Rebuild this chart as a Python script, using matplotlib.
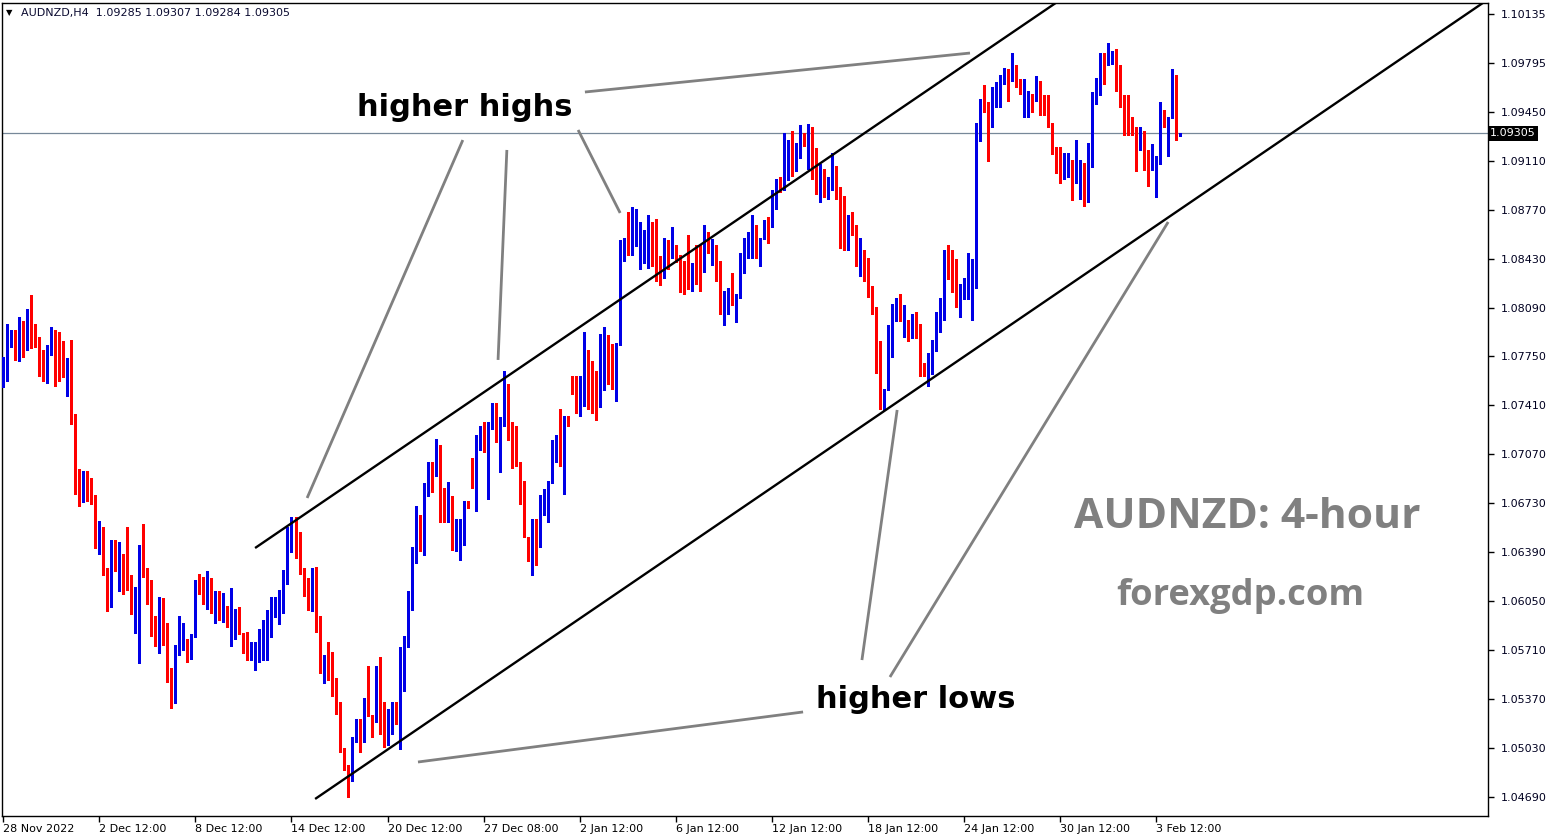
import matplotlib
matplotlib.use("Agg")
import matplotlib.pyplot as plt
from matplotlib.transforms import blended_transform_factory

# ---------------- data (AUDNZD H4) ----------------
opens = [
    1.0755, 1.0762, 1.0791, 1.0778, 1.0774, 1.0792, 1.0786, 1.0803, 1.0792, 1.0784,
    1.0767, 1.0762, 1.0779, 1.0793, 1.0764, 1.0769, 1.0764, 1.0773, 1.0730, 1.0687,
    1.0674, 1.0687, 1.0678, 1.0675, 1.0645, 1.0648, 1.0627, 1.0620, 1.0630, 1.0628,
    1.0638, 1.0622, 1.0619, 1.0595, 1.0598, 1.0643, 1.0624, 1.0606, 1.0584, 1.0580,
    1.0606, 1.0586, 1.0559, 1.0534, 1.0570, 1.0577, 1.0579, 1.0570, 1.0581, 1.0619,
    1.0616, 1.0606, 1.0610, 1.0597, 1.0605, 1.0592, 1.0594, 1.0574, 1.0583, 1.0599,
    1.0583, 1.0571, 1.0564, 1.0563, 1.0575, 1.0577, 1.0582, 1.0580, 1.0600, 1.0589,
    1.0597, 1.0619, 1.0645, 1.0647, 1.0644, 1.0622, 1.0621, 1.0605, 1.0616, 1.0591,
    1.0556, 1.0563, 1.0561, 1.0541, 1.0529, 1.0503, 1.0490, 1.0504, 1.0510, 1.0520,
    1.0507, 1.0536, 1.0526, 1.0523, 1.0550, 1.0522, 1.0520, 1.0521, 1.0530, 1.0513,
    1.0570, 1.0573, 1.0603, 1.0638, 1.0658, 1.0643, 1.0678, 1.0697, 1.0692, 1.0714,
    1.0671, 1.0668, 1.0670, 1.0643, 1.0653, 1.0659, 1.0673, 1.0705, 1.0670, 1.0719,
    1.0725, 1.0714, 1.0725, 1.0736, 1.0711, 1.0727, 1.0753, 1.0730, 1.0721, 1.0702,
    1.0671, 1.0650, 1.0633, 1.0660, 1.0643, 1.0670, 1.0666, 1.0688, 1.0711, 1.0719,
    1.0699, 1.0731, 1.0762, 1.0759, 1.0742, 1.0752, 1.0778, 1.0758, 1.0756, 1.0740,
    1.0759, 1.0776, 1.0776, 1.0744, 1.0783, 1.0842, 1.0858, 1.0847, 1.0856, 1.0836,
    1.0849, 1.0854, 1.0867, 1.0864, 1.0845, 1.0830, 1.0848, 1.0845, 1.0853, 1.0845,
    1.0835, 1.0833, 1.0828, 1.0840, 1.0837, 1.0834, 1.0858, 1.0839, 1.0850, 1.0835,
    1.0810, 1.0816, 1.0822, 1.0799, 1.0818, 1.0840, 1.0851, 1.0855, 1.0860, 1.0838,
    1.0857, 1.0869, 1.0865, 1.0884, 1.0898, 1.0891, 1.0907, 1.0925, 1.0908, 1.0915,
    1.0930, 1.0906, 1.0935, 1.0917, 1.0891, 1.0904, 1.0889, 1.0891, 1.0906, 1.0885,
    1.0869, 1.0855, 1.0872, 1.0867, 1.0840, 1.0842, 1.0828, 1.0824, 1.0810, 1.0774,
    1.0741, 1.0752, 1.0778, 1.0800, 1.0803, 1.0794, 1.0801, 1.0792, 1.0805, 1.0789,
    1.0768, 1.0760, 1.0763, 1.0779, 1.0792, 1.0808, 1.0846, 1.0843, 1.0843, 1.0814,
    1.0822, 1.0823, 1.0825, 1.0830, 1.0931, 1.0952, 1.0946, 1.0943, 1.0954, 1.0956,
    1.0965, 1.0975, 1.0967, 1.0975, 1.0965, 1.0942, 1.0954, 1.0956, 1.0953, 1.0963,
    1.0949, 1.0942, 1.0938, 1.0917, 1.0904, 1.0902, 1.0907, 1.0905, 1.0897, 1.0903,
    1.0906, 1.0885, 1.0918, 1.0951, 1.0958, 1.0983, 1.0978, 1.0979, 1.0983, 1.0955,
    1.0950, 1.0944, 1.0937, 1.0935, 1.0919, 1.0928, 1.0909, 1.0905, 1.0905, 1.0910,
    1.0942, 1.0919, 1.0941, 1.0968, 1.09285,
]
highs = [
    1.0775, 1.0798, 1.0794, 1.0794, 1.0803, 1.0800, 1.0808, 1.0818, 1.0798, 1.0789,
    1.0780, 1.0783, 1.0796, 1.0794, 1.0792, 1.0786, 1.0774, 1.0787, 1.0735, 1.0697,
    1.0696, 1.0696, 1.0691, 1.0679, 1.0661, 1.0657, 1.0628, 1.0648, 1.0648, 1.0646,
    1.0638, 1.0657, 1.0623, 1.0615, 1.0644, 1.0659, 1.0628, 1.0620, 1.0595, 1.0608,
    1.0607, 1.0590, 1.0559, 1.0575, 1.0595, 1.0590, 1.0579, 1.0582, 1.0620, 1.0624,
    1.0622, 1.0626, 1.0621, 1.0612, 1.0612, 1.0611, 1.0602, 1.0614, 1.0600, 1.0601,
    1.0583, 1.0584, 1.0577, 1.0577, 1.0586, 1.0592, 1.0599, 1.0608, 1.0608, 1.0613,
    1.0627, 1.0657, 1.0664, 1.0664, 1.0653, 1.0628, 1.0621, 1.0628, 1.0629, 1.0595,
    1.0568, 1.0577, 1.0570, 1.0552, 1.0535, 1.0503, 1.0491, 1.0511, 1.0523, 1.0523,
    1.0538, 1.0560, 1.0526, 1.0560, 1.0566, 1.0535, 1.0530, 1.0535, 1.0535, 1.0573,
    1.0581, 1.0612, 1.0643, 1.0671, 1.0665, 1.0687, 1.0702, 1.0702, 1.0718, 1.0714,
    1.0684, 1.0688, 1.0678, 1.0662, 1.0662, 1.0675, 1.0675, 1.0705, 1.0721, 1.0727,
    1.0730, 1.0730, 1.0743, 1.0743, 1.0733, 1.0765, 1.0756, 1.0730, 1.0727, 1.0702,
    1.0689, 1.0650, 1.0662, 1.0662, 1.0679, 1.0683, 1.0689, 1.0717, 1.0721, 1.0739,
    1.0734, 1.0734, 1.0762, 1.0762, 1.0762, 1.0792, 1.0780, 1.0772, 1.0765, 1.0791,
    1.0796, 1.0790, 1.0784, 1.0785, 1.0856, 1.0858, 1.0876, 1.0879, 1.0878, 1.0869,
    1.0863, 1.0874, 1.0869, 1.0871, 1.0845, 1.0858, 1.0856, 1.0865, 1.0853, 1.0846,
    1.0842, 1.0860, 1.0840, 1.0853, 1.0853, 1.0867, 1.0862, 1.0857, 1.0853, 1.0842,
    1.0821, 1.0823, 1.0833, 1.0819, 1.0847, 1.0858, 1.0862, 1.0874, 1.0867, 1.0858,
    1.0870, 1.0872, 1.0891, 1.0899, 1.0900, 1.0931, 1.0926, 1.0932, 1.0924, 1.0936,
    1.0931, 1.0937, 1.0935, 1.0920, 1.0909, 1.0906, 1.0900, 1.0917, 1.0908, 1.0893,
    1.0887, 1.0874, 1.0876, 1.0867, 1.0858, 1.0849, 1.0844, 1.0824, 1.0810, 1.0786,
    1.0753, 1.0797, 1.0812, 1.0816, 1.0819, 1.0811, 1.0801, 1.0805, 1.0806, 1.0798,
    1.0771, 1.0778, 1.0787, 1.0806, 1.0816, 1.0849, 1.0853, 1.0849, 1.0843, 1.0826,
    1.0830, 1.0847, 1.0843, 1.0938, 1.0954, 1.0964, 1.0952, 1.0963, 1.0966, 1.0971,
    1.0976, 1.0975, 1.0986, 1.0978, 1.0968, 1.0968, 1.0960, 1.0958, 1.0970, 1.0967,
    1.0957, 1.0957, 1.0938, 1.0921, 1.0921, 1.0917, 1.0917, 1.0912, 1.0926, 1.0912,
    1.0910, 1.0924, 1.0959, 1.0969, 1.0986, 1.0986, 1.0993, 1.0988, 1.0989, 1.0978,
    1.0957, 1.0957, 1.0942, 1.0935, 1.0935, 1.0932, 1.0919, 1.0923, 1.0915, 1.0952,
    1.0947, 1.0942, 1.0975, 1.0971, 1.09307,
]
lows = [
    1.0754, 1.0758, 1.0782, 1.0773, 1.0772, 1.0775, 1.0780, 1.0781, 1.0782, 1.0762,
    1.0758, 1.0757, 1.0776, 1.0755, 1.0758, 1.0761, 1.0748, 1.0728, 1.0680, 1.0671,
    1.0674, 1.0675, 1.0673, 1.0642, 1.0638, 1.0623, 1.0598, 1.0601, 1.0626, 1.0612,
    1.0610, 1.0613, 1.0596, 1.0583, 1.0562, 1.0622, 1.0603, 1.0581, 1.0574, 1.0569,
    1.0575, 1.0549, 1.0531, 1.0534, 1.0568, 1.0571, 1.0563, 1.0565, 1.0580, 1.0610,
    1.0603, 1.0600, 1.0597, 1.0590, 1.0592, 1.0591, 1.0587, 1.0574, 1.0579, 1.0582,
    1.0569, 1.0564, 1.0564, 1.0557, 1.0563, 1.0564, 1.0564, 1.0580, 1.0594, 1.0589,
    1.0597, 1.0617, 1.0639, 1.0635, 1.0624, 1.0609, 1.0599, 1.0598, 1.0584, 1.0555,
    1.0548, 1.0550, 1.0539, 1.0527, 1.0500, 1.0488, 1.0469, 1.0480, 1.0507, 1.0500,
    1.0507, 1.0525, 1.0511, 1.0521, 1.0513, 1.0504, 1.0505, 1.0513, 1.0520, 1.0502,
    1.0543, 1.0573, 1.0599, 1.0632, 1.0640, 1.0637, 1.0678, 1.0681, 1.0692, 1.0660,
    1.0660, 1.0660, 1.0641, 1.0640, 1.0634, 1.0644, 1.0670, 1.0684, 1.0668, 1.0710,
    1.0709, 1.0676, 1.0725, 1.0716, 1.0695, 1.0727, 1.0717, 1.0698, 1.0699, 1.0673,
    1.0650, 1.0633, 1.0623, 1.0630, 1.0643, 1.0665, 1.0660, 1.0687, 1.0702, 1.0699,
    1.0680, 1.0727, 1.0749, 1.0736, 1.0734, 1.0741, 1.0739, 1.0736, 1.0731, 1.0740,
    1.0752, 1.0756, 1.0753, 1.0744, 1.0783, 1.0842, 1.0846, 1.0846, 1.0852, 1.0836,
    1.0840, 1.0837, 1.0838, 1.0828, 1.0825, 1.0830, 1.0836, 1.0844, 1.0841, 1.0820,
    1.0819, 1.0822, 1.0821, 1.0826, 1.0821, 1.0834, 1.0847, 1.0839, 1.0828, 1.0805,
    1.0797, 1.0805, 1.0811, 1.0799, 1.0816, 1.0833, 1.0844, 1.0844, 1.0844, 1.0838,
    1.0857, 1.0854, 1.0865, 1.0878, 1.0890, 1.0891, 1.0898, 1.0901, 1.0904, 1.0913,
    1.0922, 1.0906, 1.0899, 1.0888, 1.0883, 1.0886, 1.0885, 1.0891, 1.0885, 1.0851,
    1.0849, 1.0849, 1.0860, 1.0838, 1.0831, 1.0828, 1.0817, 1.0805, 1.0764, 1.0739,
    1.0738, 1.0752, 1.0775, 1.0800, 1.0800, 1.0789, 1.0786, 1.0788, 1.0788, 1.0762,
    1.0762, 1.0755, 1.0763, 1.0779, 1.0792, 1.0801, 1.0829, 1.0820, 1.0810, 1.0803,
    1.0815, 1.0815, 1.0801, 1.0823, 1.0925, 1.0945, 1.0911, 1.0935, 1.0949, 1.0949,
    1.0965, 1.0953, 1.0967, 1.0963, 1.0958, 1.0942, 1.0942, 1.0945, 1.0953, 1.0943,
    1.0943, 1.0935, 1.0916, 1.0903, 1.0896, 1.0899, 1.0900, 1.0884, 1.0896, 1.0885,
    1.0880, 1.0883, 1.0907, 1.0951, 1.0957, 1.0965, 1.0978, 1.0979, 1.0960, 1.0949,
    1.0929, 1.0929, 1.0929, 1.0904, 1.0919, 1.0905, 1.0894, 1.0905, 1.0886, 1.0909,
    1.0935, 1.0915, 1.0941, 1.0926, 1.09284,
]
closes = [
    1.0774, 1.0791, 1.0792, 1.0774, 1.0792, 1.0786, 1.0803, 1.0790, 1.0790, 1.0766,
    1.0762, 1.0780, 1.0793, 1.0755, 1.0763, 1.0762, 1.0773, 1.0728, 1.0686, 1.0675,
    1.0691, 1.0677, 1.0674, 1.0645, 1.0648, 1.0626, 1.0598, 1.0630, 1.0628, 1.0638,
    1.0622, 1.0614, 1.0605, 1.0599, 1.0643, 1.0623, 1.0605, 1.0582, 1.0574, 1.0606,
    1.0585, 1.0557, 1.0534, 1.0573, 1.0581, 1.0579, 1.0570, 1.0582, 1.0619, 1.0616,
    1.0603, 1.0609, 1.0597, 1.0606, 1.0592, 1.0594, 1.0591, 1.0584, 1.0599, 1.0582,
    1.0570, 1.0565, 1.0571, 1.0576, 1.0578, 1.0582, 1.0590, 1.0601, 1.0605, 1.0598,
    1.0620, 1.0646, 1.0647, 1.0642, 1.0631, 1.0620, 1.0605, 1.0616, 1.0591, 1.0555,
    1.0558, 1.0560, 1.0540, 1.0528, 1.0502, 1.0489, 1.0484, 1.0511, 1.0520, 1.0507,
    1.0536, 1.0525, 1.0511, 1.0550, 1.0521, 1.0521, 1.0522, 1.0530, 1.0520, 1.0571,
    1.0575, 1.0603, 1.0639, 1.0660, 1.0651, 1.0678, 1.0696, 1.0692, 1.0713, 1.0668,
    1.0667, 1.0670, 1.0643, 1.0654, 1.0660, 1.0673, 1.0671, 1.0689, 1.0720, 1.0725,
    1.0714, 1.0725, 1.0736, 1.0729, 1.0728, 1.0753, 1.0730, 1.0721, 1.0702, 1.0680,
    1.0650, 1.0633, 1.0660, 1.0643, 1.0673, 1.0676, 1.0689, 1.0712, 1.0719, 1.0699,
    1.0730, 1.0728, 1.0752, 1.0740, 1.0753, 1.0781, 1.0760, 1.0755, 1.0740, 1.0759,
    1.0776, 1.0771, 1.0753, 1.0783, 1.0842, 1.0858, 1.0846, 1.0857, 1.0866, 1.0855,
    1.0856, 1.0867, 1.0863, 1.0842, 1.0825, 1.0848, 1.0844, 1.0853, 1.0845, 1.0835,
    1.0833, 1.0828, 1.0840, 1.0836, 1.0834, 1.0858, 1.0847, 1.0850, 1.0835, 1.0810,
    1.0817, 1.0822, 1.0811, 1.0819, 1.0840, 1.0851, 1.0855, 1.0860, 1.0847, 1.0858,
    1.0869, 1.0865, 1.0884, 1.0897, 1.0891, 1.0907, 1.0925, 1.0907, 1.0917, 1.0931,
    1.0924, 1.0935, 1.0906, 1.0891, 1.0904, 1.0889, 1.0890, 1.0906, 1.0885, 1.0868,
    1.0855, 1.0872, 1.0860, 1.0840, 1.0842, 1.0828, 1.0823, 1.0808, 1.0774, 1.0741,
    1.0753, 1.0779, 1.0801, 1.0802, 1.0801, 1.0801, 1.0792, 1.0805, 1.0788, 1.0767,
    1.0765, 1.0764, 1.0780, 1.0792, 1.0809, 1.0846, 1.0829, 1.0826, 1.0814, 1.0823,
    1.0824, 1.0826, 1.0832, 1.0931, 1.0952, 1.0945, 1.0943, 1.0954, 1.0964, 1.0966,
    1.0975, 1.0967, 1.0975, 1.0965, 1.0963, 1.0954, 1.0956, 1.0953, 1.0963, 1.0949,
    1.0947, 1.0936, 1.0916, 1.0903, 1.0902, 1.0908, 1.0913, 1.0896, 1.0904, 1.0906,
    1.0885, 1.0919, 1.0951, 1.0960, 1.0983, 1.0978, 1.0980, 1.0981, 1.0969, 1.0949,
    1.0943, 1.0936, 1.0934, 1.0919, 1.0928, 1.0908, 1.0905, 1.0909, 1.0911, 1.0942,
    1.0940, 1.0942, 1.0968, 1.0928, 1.09305,
]

date_ticks = [0, 24, 48, 72, 96, 120, 144, 168, 192, 216, 240, 264, 288]
date_labels = ["28 Nov 2022", "2 Dec 12:00", "8 Dec 12:00", "14 Dec 12:00",
               "20 Dec 12:00", "27 Dec 08:00", "2 Jan 12:00", "6 Jan 12:00",
               "12 Jan 12:00", "18 Jan 12:00", "24 Jan 12:00", "30 Jan 12:00",
               "3 Feb 12:00"]
price_labels = ["1.10135", "1.09795", "1.09450", "1.09110", "1.08770", "1.08430",
                "1.08090", "1.07750", "1.07410", "1.07070", "1.06730", "1.06390",
                "1.06050", "1.05710", "1.05370", "1.05030", "1.04690"]
price_top, price_bottom = 1.10135, 1.04690
last_price = 1.09305
header = "AUDNZD,H4  1.09285 1.09307 1.09284 1.09305"

# trend channel and annotation guides (bar index, price)
upper_channel = [(62.9, 1.06421), (262.9, 1.10211)]
lower_channel = [(77.9, 1.04676), (369.6, 1.10211)]
hh_pointers = [
    [(114.8, 1.09258), (75.9, 1.06769)],
    [(125.8, 1.09189), (123.6, 1.07729)],
    [(143.6, 1.09328), (154.1, 1.08751)],
    [(145.3, 1.09592), (241.5, 1.09863)],
]
hl_pointers = [
    [(103.6, 1.04933), (199.8, 1.05281)],
    [(214.5, 1.05642), (223.3, 1.07381)],
    [(221.5, 1.05524), (291.0, 1.08688)],
]

BLUE = "#0000e6"
RED = "#ff0000"
GRAY = "#808080"

# ---------------- figure ----------------
W, H = 1550, 840
fig = plt.figure(figsize=(W / 100, H / 100), dpi=100)
fig.patch.set_facecolor("white")
ax_l, ax_r, ax_t, ax_b = 2, 1488, 3, 816
ax = fig.add_axes([ax_l / W, 1 - ax_b / H, (ax_r - ax_l) / W, (ax_b - ax_t) / H])
ax.set_facecolor("white")

ax.set_xlim(-0.32, 370.9)
ax.set_ylim(1.045575, 1.10211)

# candles: wicks 1 px, bodies 3 px (drawn as thick vertical strokes)
MIN_BODY = 0.00008
for col, up in ((BLUE, True), (RED, False)):
    idx = [i for i in range(len(closes)) if (closes[i] >= opens[i]) == up]
    wick_lo = [min(lows[i], opens[i], closes[i]) for i in idx]
    wick_hi = [max(highs[i], opens[i], closes[i]) for i in idx]
    ax.vlines(idx, wick_lo, wick_hi, color=col, linewidth=0.75, zorder=3,
              antialiased=False)
    b_lo, b_hi = [], []
    for i in idx:
        lo_b, hi_b = min(opens[i], closes[i]), max(opens[i], closes[i])
        if hi_b - lo_b < MIN_BODY:
            mid = (hi_b + lo_b) / 2
            lo_b, hi_b = mid - MIN_BODY / 2, mid + MIN_BODY / 2
        b_lo.append(lo_b)
        b_hi.append(hi_b)
    ax.vlines(idx, b_lo, b_hi, color=col, linewidth=2.16, zorder=4,
              antialiased=False, capstyle="butt")

# current price line
ax.axhline(last_price, color="#778899", linewidth=0.9, zorder=2)

# channel lines
for seg in (upper_channel, lower_channel):
    ax.plot([seg[0][0], seg[1][0]], [seg[0][1], seg[1][1]], color="black",
            linewidth=1.7, solid_capstyle="butt", zorder=5)

# annotation pointers
for seg in hh_pointers + hl_pointers:
    ax.plot([seg[0][0], seg[1][0]], [seg[0][1], seg[1][1]], color=GRAY,
            linewidth=2.0, solid_capstyle="butt", zorder=5)

# axes styling
for sp in ax.spines.values():
    sp.set_color("black")
    sp.set_linewidth(1.0)

ax.set_xticks(date_ticks)
ax.set_xticklabels(date_labels, fontsize=8, family="DejaVu Sans", color="black")
for lbl in ax.get_xticklabels():
    lbl.set_horizontalalignment("left")
ax.tick_params(axis="x", direction="out", length=4, width=1, pad=2, color="black")

step = (price_top - price_bottom) / (len(price_labels) - 1)
yticks = [price_top - k * step for k in range(len(price_labels))]
ax.yaxis.tick_right()
ax.set_yticks(yticks)
ax.set_yticklabels(price_labels, fontsize=8, family="DejaVu Sans", color="#000020")
ax.tick_params(axis="y", direction="out", length=4, width=1, pad=5, color="black")

# current price tag
trans = blended_transform_factory(ax.transAxes, ax.transData)
ax.text(1.0015, last_price, "1.09305", transform=trans, fontsize=8,
        family="DejaVu Sans", color="white", ha="left", va="center",
        bbox=dict(facecolor="black", edgecolor="none", pad=1.6), zorder=10,
        clip_on=False)

# header
fig.text(6 / W, 1 - 13 / H, "\u25BC", fontsize=6, color="black", ha="left", va="center")
fig.text(21 / W, 1 - 13 / H, header, fontsize=8, family="DejaVu Sans",
         color="#0a0a30", ha="left", va="center")

# annotation texts
fig.text(464.5 / W, 1 - 107 / H, "higher highs", fontsize=22, fontweight="bold",
         family="DejaVu Sans", color="black", ha="center", va="center")
fig.text(915.5 / W, 1 - 700 / H, "higher lows", fontsize=22, fontweight="bold",
         family="DejaVu Sans", color="black", ha="center", va="center")
fig.text(1247.5 / W, 1 - 518 / H, "AUDNZD: 4-hour", fontsize=30.6, fontweight="bold",
         family="Open Sans", color=GRAY, ha="center", va="center")
fig.text(1240.5 / W, 1 - 596 / H, "forexgdp.com", fontsize=26.2, fontweight="bold",
         family="Open Sans", color=GRAY, ha="center", va="center")

fig.savefig("out.png", dpi=100, facecolor="white")
